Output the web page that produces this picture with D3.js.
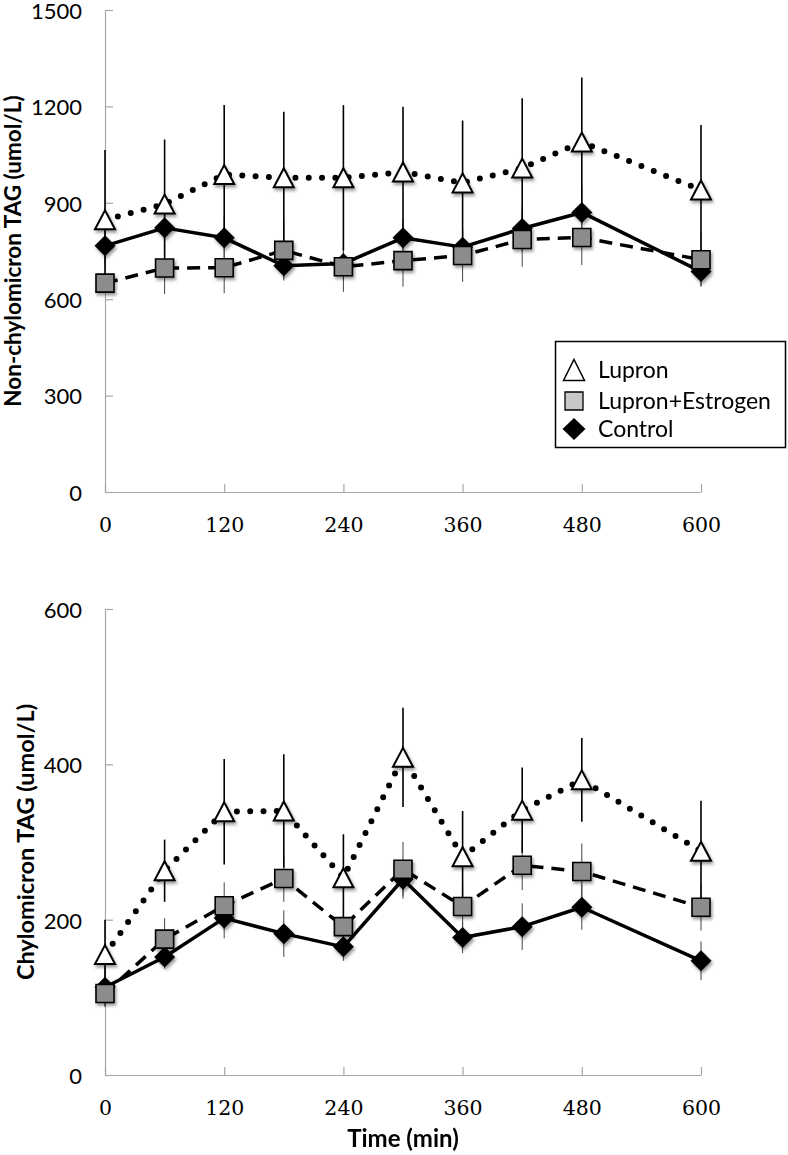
<!DOCTYPE html>
<html>
<head>
<meta charset="utf-8">
<script src="https://cdn.jsdelivr.net/npm/d3@7"></script>
<style>
  html, body { margin: 0; padding: 0; background: #fff; }
  svg { display: block; }
</style>
</head>
<body>
<svg id="chart" width="788" height="1155"></svg>
<script>
// ---------- data ----------
const times = [0, 60, 120, 180, 240, 300, 360, 420, 480, 600];
const xTickValues = [0, 120, 240, 360, 480, 600];
const seriesNames = ["Lupron", "Lupron+Estrogen", "Control"];

// Non-chylomicron TAG (umol/L)
const topYTicks = [0, 300, 600, 900, 1200, 1500];
const topLupron      = [847, 896, 988, 978, 978, 996, 962, 1008, 1089, 940];
const topLupronErr   = [217, 201, 216, 205, 226, 203, 194, 217, 201, 202];
const topEstrogen    = [650, 697, 698, 752, 701, 720, 736, 786, 792, 723];
const topEstrogenErr = [30, 81, 79, 94, 78, 81, 82, 85, 86, 84];
const topControl     = [766, 822, 791, 704, 711, 791, 762, 820, 870, 686];
const topControlErr  = [60, 70, 65, 40, 50, 60, 55, 70, 80, 45];

// Chylomicron TAG (umol/L)
const botYTicks = [0, 200, 400, 600];
const botLupron      = [155, 263, 339, 340, 254, 409, 281, 341, 380, 288];
const botLupronErr   = [45, 40, 68, 73, 56, 64, 59, 55, 54, 65];
const botEstrogen    = [105, 175, 218, 253, 191, 265, 217, 270, 262, 216];
const botEstrogenErr = [17, 27, 30, 30, 28, 35, 30, 32, 36, 30];
const botControl     = [113, 152, 202, 182, 165, 252, 177, 191, 216, 147];
const botControlErr  = [25, 15, 26, 30, 18, 25, 20, 30, 29, 25];

// ---------- drawing ----------
const svg = d3.select("#chart");
const defs = svg.append("defs");
const f = defs.append("filter").attr("id", "shadow")
  .attr("x", "-50%").attr("y", "-50%").attr("width", "200%").attr("height", "200%");
f.append("feDropShadow").attr("dx", 1.5).attr("dy", 2.5)
  .attr("stdDeviation", 1.6).attr("flood-color", "#000").attr("flood-opacity", 0.4);

const sansFont = "Lato, 'Open Sans', sans-serif";
const serifFont = "'DejaVu Serif', 'Liberation Serif', serif";
const axisGray = "#a8a8a8";

const triPath = (w, h) => `M0,${-h/2}L${w/2},${h/2}L${-w/2},${h/2}Z`;
const sqPath = s => `M${-s/2},${-s/2}h${s}v${s}h${-s}Z`;
const diaPath = (w, h) => `M0,${-h/2}L${w/2},0L0,${h/2}L${-w/2},0Z`;

function drawPanel(cfg) {
  const x = d3.scaleLinear().domain([0, 600]).range([105, 701]);
  const y = d3.scaleLinear().domain([0, cfg.yMax]).range([cfg.yBottom, cfg.yTop]);
  const g = svg.append("g");

  // y axis
  const yAxis = d3.axisLeft(y).tickValues(cfg.yTicks).tickSize(0).tickPadding(0).tickFormat(d3.format("d"));
  const ya = g.append("g").attr("transform", "translate(105,0)").call(yAxis);
  ya.select(".domain").attr("stroke", axisGray).attr("stroke-width", 1.2);
  ya.selectAll(".tick text").attr("x", -23).attr("dy", "0.38em")
    .attr("font-family", sansFont).attr("font-size", 22).attr("fill", "#000").attr("text-anchor", "end");
  ya.selectAll(".tick").append("line").attr("x1", 0).attr("x2", 8)
    .attr("stroke", axisGray).attr("stroke-width", 1.2);

  // x axis
  const xAxis = d3.axisBottom(x).tickValues(xTickValues).tickSize(0).tickPadding(0).tickFormat(d3.format("d"));
  const xa = g.append("g").attr("transform", `translate(0,${cfg.yBottom})`).call(xAxis);
  xa.select(".domain").attr("stroke", axisGray).attr("stroke-width", 1.2);
  xa.selectAll(".tick text").attr("y", 40).attr("dy", 0)
    .attr("font-family", serifFont).attr("font-size", 20.5).attr("fill", "#000");
  xa.selectAll(".tick").append("line").attr("y1", 0).attr("y2", -8)
    .attr("stroke", axisGray).attr("stroke-width", 1.2);

  // y title
  g.append("text")
    .attr("transform", `translate(${cfg.titleX},${(cfg.yTop + cfg.yBottom) / 2 + cfg.titleDy}) rotate(-90)`)
    .attr("text-anchor", "middle").attr("font-family", sansFont).attr("font-weight", "bold")
    .attr("font-size", cfg.titleSize).attr("fill", "#000").text(cfg.title);

  const series = [
    { vals: cfg.lupron, err: cfg.lupronErr, key: "lupron" },
    { vals: cfg.estrogen, err: cfg.estrogenErr, key: "estrogen" },
    { vals: cfg.control, err: cfg.controlErr, key: "control" }
  ];

  // error bars
  const eb = g.append("g");
  [series[2], series[1], series[0]].forEach(s => {
    eb.selectAll(null).data(times.map((t, i) => ({ t, v: s.vals[i], e: s.err[i] })))
      .join("line")
      .attr("x1", d => x(d.t)).attr("x2", d => x(d.t))
      .attr("y1", d => y(d.v - d.e)).attr("y2", d => y(d.v + d.e))
      .attr("stroke", s.key === "lupron" ? "#000" : "#444")
      .attr("stroke-width", s.key === "lupron" ? 1.6 : 1);
  });

  // lines
  const line = d3.line().x((d, i) => x(times[i])).y(d => y(d));
  g.append("path").datum(cfg.control).attr("d", line).attr("fill", "none")
    .attr("stroke", "#000").attr("stroke-width", 3.5).attr("stroke-linejoin", "round");
  g.append("path").datum(cfg.estrogen).attr("d", line).attr("fill", "none")
    .attr("stroke", "#000").attr("stroke-width", 3.5).attr("stroke-dasharray", "13,8");
  g.append("path").datum(cfg.lupron).attr("d", line).attr("fill", "none")
    .attr("stroke", "#000").attr("stroke-width", 6).attr("stroke-linecap", "round")
    .attr("stroke-dasharray", "0,13.3");

  // markers
  const mk = g.append("g").attr("filter", "url(#shadow)");
  mk.selectAll(null).data(cfg.lupron).join("path")
    .attr("d", triPath(20, 19))
    .attr("transform", (d, i) => `translate(${x(times[i])},${y(d)})`)
    .attr("fill", "#fff").attr("stroke", "#000").attr("stroke-width", 2).attr("stroke-linejoin", "miter");
  mk.selectAll(null).data(cfg.control).join("path")
    .attr("d", diaPath(21, 21))
    .attr("transform", (d, i) => `translate(${x(times[i])},${y(d)})`)
    .attr("fill", "#000");
  mk.selectAll(null).data(cfg.estrogen).join("path")
    .attr("d", sqPath(18))
    .attr("transform", (d, i) => `translate(${x(times[i])},${y(d)})`)
    .attr("fill", "#8c8c8c").attr("stroke", "#000").attr("stroke-width", 1.6);
}

drawPanel({
  yMax: 1500, yTop: 10, yBottom: 492, yTicks: topYTicks,
  title: "Non-chylomicron TAG (umol/L)", titleX: 21, titleDy: 0, titleSize: 22.5,
  lupron: topLupron, lupronErr: topLupronErr,
  estrogen: topEstrogen, estrogenErr: topEstrogenErr,
  control: topControl, controlErr: topControlErr
});

drawPanel({
  yMax: 600, yTop: 609, yBottom: 1075, yTicks: botYTicks,
  title: "Chylomicron TAG (umol/L)", titleX: 34, titleDy: 0, titleSize: 23.5,
  lupron: botLupron, lupronErr: botLupronErr,
  estrogen: botEstrogen, estrogenErr: botEstrogenErr,
  control: botControl, controlErr: botControlErr
});

// x title
svg.append("text").attr("x", 403).attr("y", 1147).attr("text-anchor", "middle")
  .attr("font-family", sansFont).attr("font-weight", "bold").attr("font-size", 24)
  .attr("fill", "#000").text("Time (min)");

// legend
const lg = svg.append("g");
lg.append("rect").attr("x", 555.5).attr("y", 341.5).attr("width", 230).attr("height", 106)
  .attr("fill", "#fff").attr("stroke", "#000").attr("stroke-width", 1.5);
const legendRows = [
  { name: seriesNames[0], y: 370, d: triPath(21, 21), fill: "#fff", stroke: "#000", sw: 1.5 },
  { name: seriesNames[1], y: 401, d: sqPath(18), fill: "#c8c8c8", stroke: "#000", sw: 1.3 },
  { name: seriesNames[2], y: 429, d: diaPath(23, 22), fill: "#000", stroke: "none", sw: 0 }
];
lg.selectAll(null).data(legendRows).join("path")
  .attr("d", d => d.d).attr("transform", d => `translate(574,${d.y})`)
  .attr("fill", d => d.fill).attr("stroke", d => d.stroke).attr("stroke-width", d => d.sw);
lg.selectAll(null).data(legendRows).join("text")
  .attr("x", 598).attr("y", d => d.y).attr("dy", "0.35em")
  .attr("font-family", sansFont).attr("font-size", 23).attr("fill", "#000")
  .text(d => d.name);
</script>
</body>
</html>
